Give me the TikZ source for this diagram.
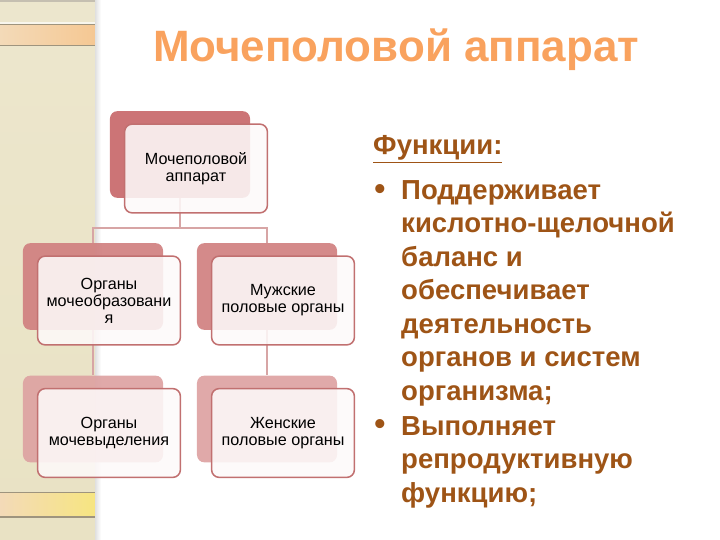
\documentclass[tikz,border=0pt]{standalone}
\usepackage{fontspec}
\setmainfont{Liberation Sans}
\usetikzlibrary{backgrounds}
\definecolor{titleorange}{RGB}{249,162,94}
\definecolor{funcbrown}{RGB}{158,84,22}
\definecolor{backdark}{RGB}{200,104,106}
\definecolor{backmid}{RGB}{208,128,128}
\definecolor{backlight}{RGB}{221,162,162}
\definecolor{frameline}{RGB}{193,112,112}
\definecolor{frontfill}{RGB}{253,249,249}
\definecolor{linkline}{RGB}{215,165,165}
\definecolor{stripbg}{RGB}{233,226,196}
\definecolor{stripband}{RGB}{243,218,184}
\definecolor{stripline}{RGB}{158,148,126}
\def\levelbox[#1](#2,#3)#4#5{%
  \node[back, fill=#1] (#4back) at (#2,#3) {};
  \node[front] (#4) at (#2+16,#3+14) {#5};}

\begin{document}
\begin{tikzpicture}[x=0.03cm, y=-0.03cm,
    back/.style={rectangle, rounded corners=0.22cm, minimum width=4.2cm, minimum height=2.6cm, fill opacity=0.92},
    front/.style={rectangle, rounded corners=0.22cm, draw=frameline, line width=1.3pt, fill=frontfill, fill opacity=0.88, text opacity=1, minimum width=4.28cm, minimum height=2.66cm, align=center, font=\fontsize{13.8}{14.6}\selectfont},
    link/.style={draw=linkline, line width=1.2pt},
    functext/.style={text=funcbrown, font=\fontsize{23.5}{28.6}\selectfont\bfseries, inner sep=0pt, align=left},
    bulletmark/.style={functext, font=\fontsize{27}{28}\selectfont\bfseries, anchor=base}]
    %%%%% START %%%%%
    \useasboundingbox (0,0) rectangle (720,540);
    
    % left strip
    \begin{scope}[on background layer]
        \shade[top color=stripbg!85!white, bottom color=stripbg] (0,0) rectangle (95,540);
        \fill[stripline!60] (0,0) rectangle (95,2.5);
        \fill[white!70!stripbg] (0,22) rectangle (95,24);
        \fill[stripline] (0,24) rectangle (95,25.5);
        \shade[left color=stripband, right color=stripband!80!orange] (0,25.5) rectangle (95,45);
        \fill[stripline] (0,45) rectangle (95,46.5);
        \fill[stripline] (0,492) rectangle (95,493.5);
        \shade[left color=stripband, right color=stripband!70!yellow] (0,493.5) rectangle (95,516);
        \fill[stripline] (0,516) rectangle (95,517.5);
        \shade[left color=black!12, right color=white] (95,0) rectangle (101,540);
    \end{scope}
    
    \node[text=titleorange, font=\fontsize{37.5}{42}\selectfont\bfseries] (title) at (396,50) {Мочеполовой аппарат};
    
    % hierarchy
    \levelbox[backdark](180,154.5){root}{Мочеполовой\\аппарат}
    \levelbox[backmid](93,286.5){mobr}{Органы\\мочеобразовани\\я}
    \levelbox[backmid](267,286.5){male}{Мужские\\половые органы}
    \levelbox[backlight](93,419){mvyd}{Органы\\мочевыделения}
    \levelbox[backlight](267,419){female}{Женские\\половые органы}
    
    \begin{scope}[on background layer]
        \coordinate (fork) at (180,228);
        \draw[link] (rootback.south) -- (fork) -| (mobrback.north);
        \draw[link] (fork) -| (maleback.north);
        \draw[link] (mobrback.south) -- (mvydback.north);
        \draw[link] (maleback.south) -- (femaleback.north);
    \end{scope}
    
    % functions
    \node[functext, anchor=base west] (functitle) at (373,155) {\underline{Функции:}};
    \node[bulletmark] (bulletsupport) at (380,200) {•};
    \node[functext, anchor=north west] (itemsupport) at (401,180) {Поддерживает\\кислотно-щелочной\\баланс и\\обеспечивает\\деятельность\\органов и систем\\организма;};
    \node[bulletmark] (bulletrepro) at (380,435) {•};
    \node[functext, anchor=north west] (itemrepro) at (401,416) {Выполняет\\репродуктивную\\функцию;};
    
    %%%%% END %%%%%
\end{tikzpicture}
\end{document}
